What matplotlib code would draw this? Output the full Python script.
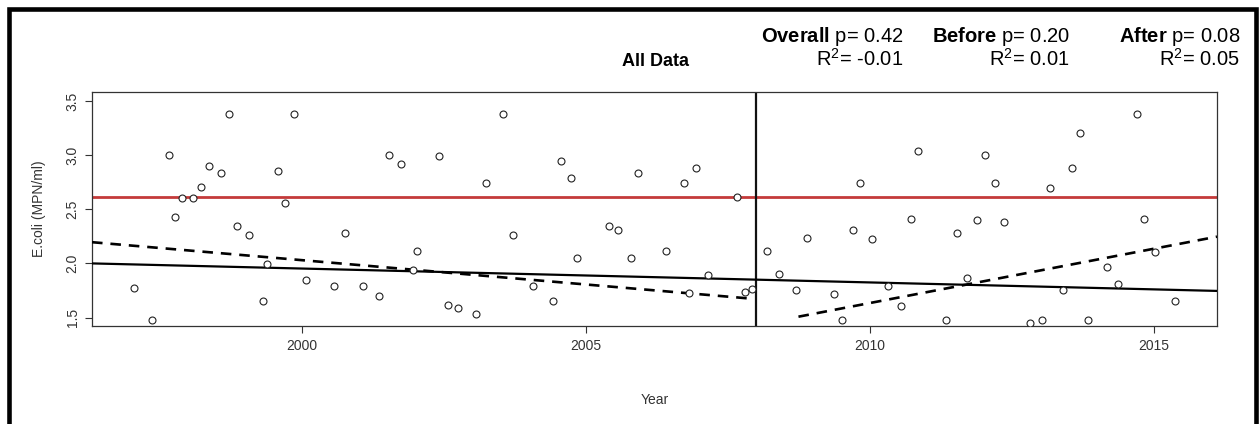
import matplotlib
matplotlib.use('Agg')
import matplotlib.pyplot as plt
from matplotlib.patches import Rectangle

plt.rcParams['font.family'] = ['Liberation Sans', 'DejaVu Sans']
plt.rcParams['mathtext.fontset'] = 'custom'
plt.rcParams['mathtext.rm'] = 'Liberation Sans'
plt.rcParams['mathtext.bf'] = 'Liberation Sans:bold'
plt.rcParams['mathtext.it'] = 'Liberation Sans:italic'

# log10 E.coli samples (decimal year, value)
year = [1997.04, 1997.36, 1997.66, 1997.76, 1997.89, 1998.08, 1998.22, 1998.36,
        1998.57, 1998.71, 1998.86, 1999.06, 1999.31, 1999.38, 1999.57, 1999.70,
        1999.86, 2000.07, 2000.56, 2000.75, 2001.07, 2001.36, 2001.53, 2001.74,
        2002.02, 2001.95, 2002.41, 2002.56, 2002.74, 2003.06, 2003.23, 2003.54,
        2003.71, 2004.06, 2004.41, 2004.55, 2004.74, 2004.84, 2005.40, 2005.56,
        2005.79, 2005.91, 2006.40, 2006.81, 2006.73, 2006.93, 2007.14, 2007.66,
        2007.79, 2007.93, 2008.19, 2008.39, 2008.69, 2008.89, 2009.37, 2009.51,
        2009.70, 2009.82, 2010.04, 2010.32, 2010.54, 2010.72, 2010.84, 2011.34,
        2011.53, 2011.71, 2011.89, 2012.02, 2012.20, 2012.36, 2012.82, 2013.03,
        2013.17, 2013.39, 2013.56, 2013.70, 2013.84, 2014.18, 2014.37, 2014.71,
        2014.82, 2015.02, 2015.37]
ecoli = [1.776, 1.481, 3.001, 2.432, 2.607, 2.607, 2.703, 2.903,
         2.838, 3.377, 2.346, 2.260, 1.656, 1.992, 2.857, 2.555,
         3.377, 1.844, 1.789, 2.278, 1.789, 1.702, 2.999, 2.915,
         2.115, 1.935, 2.992, 1.616, 1.586, 1.530, 2.740, 3.377,
         2.260, 1.789, 1.656, 2.943, 2.789, 2.050, 2.346, 2.309,
         2.048, 2.838, 2.118, 1.730, 2.743, 2.884, 1.891, 2.614,
         1.739, 1.767, 2.115, 1.905, 1.758, 2.232, 1.721, 1.478,
         2.309, 2.740, 2.229, 1.789, 1.604, 2.413, 3.038, 1.481,
         2.278, 1.866, 2.404, 3.001, 2.740, 2.383, 1.450, 1.481,
         2.692, 1.755, 2.881, 3.201, 1.481, 1.964, 1.807, 3.377,
         2.413, 2.109, 1.653]

# fitted trend lines (end points)
overall_x = [1996.30, 2016.11]
overall_y = [2.000, 1.746]
before_x = [1996.30, 2007.90]
before_y = [2.196, 1.675]
after_x = [2008.74, 2016.11]
after_y = [1.508, 2.247]

threshold = 2.613
break_year = 2008

groups = ['Overall', 'Before', 'After']
p_vals = ['0.42', '0.20', '0.08']
r2_vals = ['-0.01', '0.01', '0.05']

W, H = 1260, 424
fig = plt.figure(figsize=(W / 100, H / 100), dpi=100)
ax = fig.add_axes([92 / W, 1 - 326 / H, (1217 - 92) / W, (326 - 92) / H])

ax.axhline(threshold, color='#c43a3a', lw=2.0, zorder=1)
ax.axvline(break_year, color='#111111', lw=1.6, zorder=2)
ax.plot(overall_x, overall_y, color='black', lw=1.6, zorder=3)
ax.plot(before_x, before_y, color='black', lw=1.9, ls=(0, (4, 3)), zorder=3)
ax.plot(after_x, after_y, color='black', lw=1.9, ls=(0, (4, 3)), zorder=3)
ax.plot(year, ecoli, 'o', ms=5, mfc='white', mec='#222222', mew=0.8, zorder=4)

ax.set_xlim(1996.30, 2016.11)
ax.set_ylim(1.422, 3.583)
ax.set_xticks([2000, 2005, 2010, 2015])
ax.set_yticks([1.5, 2.0, 2.5, 3.0, 3.5])
ax.set_yticklabels(['1.5', '2.0', '2.5', '3.0', '3.5'], rotation=90, va='center')
ax.tick_params(direction='out', length=5, width=0.8, pad=4, labelsize=10,
               colors='#333333', labelcolor='#333333')
for s in ax.spines.values():
    s.set_color('#333333')
    s.set_linewidth(0.9)

ax.set_xlabel('Year', fontsize=10, color='#333333', labelpad=29)
ax.set_ylabel('E.coli (MPN/ml)', fontsize=10, color='#333333', labelpad=14)

fig.text(655 / W, 1 - 61 / H, 'All Data', ha='center', va='center',
         fontsize=13, fontweight='bold')

right_edges = [903, 1070, 1240]
for g, p, r2, xr in zip(groups, p_vals, r2_vals, right_edges):
    fig.text(xr / W, 1 - 37 / H, r'$\mathbf{' + g + '}$ p= ' + p,
             ha='right', va='center', fontsize=14.5)
    fig.text(xr / W, 1 - 59 / H, r'R$^2$= ' + r2,
             ha='right', va='center', fontsize=14.5)

# black frame round the figure
fig.patches.append(Rectangle((9.3 / W, -0.05), (1255.5 - 9.3) / W, 1.05 - 9.3 / H,
                             transform=fig.transFigure, fill=False,
                             edgecolor='black', lw=3.3))

fig.savefig('out.png', dpi=100)
